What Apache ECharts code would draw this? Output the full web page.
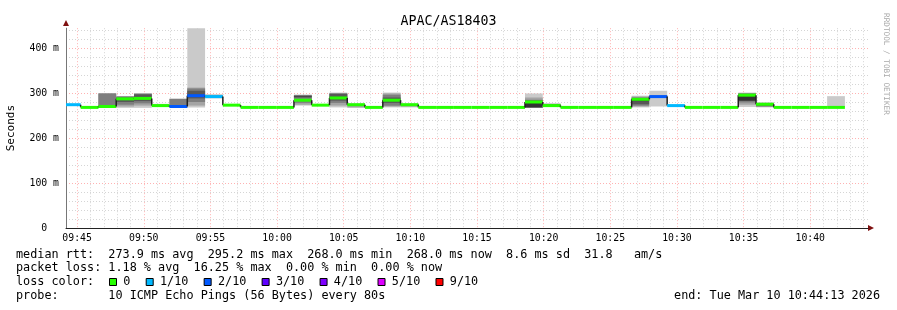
<!DOCTYPE html>
<html>
<head>
<meta charset="utf-8">
<script src="https://cdn.jsdelivr.net/npm/echarts@6/dist/echarts.min.js"></script>
<style>
html, body { margin: 0; padding: 0; background: #fff; }
#main { width: 897px; height: 310px; }
</style>
</head>
<body>
<div id="main"></div>
<script>
// rrd steps, in seconds of the day (09:43:56 + n * 80s)
var stepStart = 35036;
var stepSec = 80;

// median rtt per step (ms)
var median = [274, 268, 270, 287, 288, 272, 270, 294, 292, 273,
              268, 268, 268, 284, 273, 289, 274, 268, 284, 274,
              268, 268, 268, 268, 268, 268, 280, 272, 268, 268,
              268, 268, 286, 292, 272, 268, 268, 268, 295.2, 275,
              268, 268, 268, 268];

// loss bucket per step (index into lossLabels)
var lossIdx = [1, 0, 0, 0, 0, 0, 2, 2, 1, 0,
               0, 0, 0, 0, 0, 0, 0, 0, 0, 0,
               0, 0, 0, 0, 0, 0, 0, 0, 0, 0,
               0, 0, 0, 2, 1, 0, 0, 0, 0, 0,
               0, 0, 0, 0];

// sorted ping times per step (smoke), null where nothing shows
var pings = [
  null,
  null,
  [267, 267, 267, 269, 270, 270, 271, 299, 299, 299],
  [267, 270, 274, 280, 286, 288, 290, 292, 293, 293],
  [267, 272, 277, 282, 287, 289, 297, 298, 299, 300],
  [270, 271, 271, 272, 272, 272, 273, 273, 275, 276],
  [268, 268, 268, 269, 270, 270, 271, 287, 287, 287],
  [268, 272, 280, 288, 294, 296, 305, 310, 312, 444],
  [288, 289, 290, 291, 292, 292, 293, 294, 296, 297],
  null,
  null,
  null,
  null,
  [272, 274, 278, 290, 291, 292, 294, 295, 296, 296],
  null,
  [268, 272, 278, 283, 288, 290, 298, 299, 300, 301],
  [267, 268, 273, 273, 274, 274, 275, 275, 276, 276],
  null,
  [268, 270, 272, 278, 283, 285, 290, 296, 299, 301],
  [268, 270, 271, 272, 273, 274, 275, 275, 276, 276],
  null, null, null, null, null, null,
  [268, 268, 268, 268, 268, 279, 283, 285, 290, 299],
  [269, 270, 271, 272, 272, 273, 274, 275, 276, 277],
  null, null, null, null,
  [268, 270, 272, 275, 282, 286, 288, 290, 292, 294],
  [270, 290, 291, 291, 292, 293, 293, 294, 295, 305],
  null,
  null, null, null,
  [269, 274, 279, 283, 283, 294, 297, 299, 300, 301],
  [268, 269, 270, 272, 274, 276, 277, 277, 278, 279],
  null, null, null,
  [268, 268, 268, 268, 268, 268, 268, 268, 268, 293]
];

var lossLabels = ['0', '1/10', '2/10', '3/10', '4/10', '5/10', '9/10'];
var lossColors = ['#26ff00', '#00b8ff', '#0059ff', '#5e00ff', '#7e00ff', '#dd00ff', '#ff0000'];
var smokeColors = ['#cacaca', '#a4a4a4', '#7e7e7e', '#585858', '#323232'];

var legendLines = [
  'median rtt:  273.9 ms avg  295.2 ms max  268.0 ms min  268.0 ms now  8.6 ms sd  31.8   am/s',
  'packet loss: 1.18 % avg  16.25 % max  0.00 % min  0.00 % now',
  'loss color:',
  'probe:       10 ICMP Echo Pings (56 Bytes) every 80s'
];
var endText = 'end: Tue Mar 10 10:44:13 2026';

var xMin = 35050, xMax = 38660;   // 09:44:10 .. 10:44:20
var font = 'DejaVu Sans Mono';
var gridGray = 'rgba(128,128,128,0.33)';
var gridRed = 'rgba(255,0,0,0.3)';

// x ticks every 10s, only whole minutes get a line
var xLineColors = [];
for (var k = 0; k < 30; k++) {
  var t = xMin + k * 10;
  if (t % 300 === 0) xLineColors.push(gridRed);
  else if (t % 60 === 0) xLineColors.push(gridGray);
  else xLineColors.push('rgba(0,0,0,0)');
}

function pad(n) { return (n < 10 ? '0' : '') + n; }

var data = [];
for (var i = 0; i < median.length; i++) {
  data.push([i, stepStart + i * stepSec, stepStart + (i + 1) * stepSec, median[i], lossIdx[i]]);
}

function renderSmoke(params, api) {
  var i = api.value(0);
  var p = pings[i];
  if (!p) return;
  var cs = params.coordSys;
  var box = {x: cs.x, y: cs.y, width: cs.width, height: cs.height};
  var kids = [];
  for (var b = 0; b < 5; b++) {
    var tl = api.coord([api.value(1), p[9 - b]]);
    var br = api.coord([api.value(2), p[b]]);
    var r = echarts.graphic.clipRectByRect({x: tl[0], y: tl[1], width: br[0] - tl[0], height: br[1] - tl[1]}, box);
    if (r && r.height > 0) kids.push({type: 'rect', shape: r, style: {fill: smokeColors[b]}});
  }
  return {type: 'group', children: kids};
}

function renderMedian(params, api) {
  var i = api.value(0);
  var cs = params.coordSys;
  var a = api.coord([api.value(1), api.value(3)]);
  var b = api.coord([api.value(2), api.value(3)]);
  var x0 = Math.max(a[0], cs.x), x1 = Math.min(b[0], cs.x + cs.width);
  var kids = [];
  if (i > 0) {
    var prev = api.coord([api.value(1), median[i - 1]]);
    kids.push({type: 'line', shape: {x1: a[0], y1: prev[1], x2: a[0], y2: a[1]},
      style: {stroke: '#202020', lineWidth: 1.5}});
  }
  kids.push({type: 'line', shape: {x1: x0, y1: a[1], x2: x1, y2: a[1]},
    style: {stroke: lossColors[api.value(4)], lineWidth: 3}});
  return {type: 'group', children: kids};
}

// text lines under the graph
var graphics = [];
var lineY = [254.5, 268.3, 282.3, 296];
for (var l = 0; l < legendLines.length; l++) {
  graphics.push({type: 'text', x: 16, y: lineY[l],
    style: {text: legendLines[l], font: '11.8px "' + font + '"', fill: '#000', textVerticalAlign: 'middle'}});
}
var charW = 7.09;
var sqX = 109;
for (var c = 0; c < lossLabels.length; c++) {
  graphics.push({type: 'rect', shape: {x: sqX + 0.5, y: 278.5, width: 7, height: 7},
    style: {fill: lossColors[c], stroke: '#000', lineWidth: 1}});
  var tx = sqX + 14.3;
  graphics.push({type: 'text', x: tx, y: lineY[2],
    style: {text: lossLabels[c], font: '11.8px "' + font + '"', fill: '#000', textVerticalAlign: 'middle'}});
  sqX = tx + lossLabels[c].length * charW + 15.3;
}
graphics.push({type: 'text', x: 880, y: lineY[3],
  style: {text: endText, font: '11.8px "' + font + '"', fill: '#000', textAlign: 'right', textVerticalAlign: 'middle'}});
graphics.push({type: 'text', x: 885.5, y: 13, rotation: -Math.PI / 2,
  style: {text: 'RRDTOOL / TOBI OETIKER', font: '7.7px "' + font + '"', fill: '#a8a8a8', textVerticalAlign: 'middle'}});
// axis arrows
graphics.push({type: 'polygon', shape: {points: [[63, 26], [69, 26], [66, 20]]}, style: {fill: '#7f1010'}});
graphics.push({type: 'polygon', shape: {points: [[868, 225], [868, 231], [874, 228]]}, style: {fill: '#7f1010'}});

var myChart = echarts.init(document.getElementById('main'));
var option = {
  animation: false,
  backgroundColor: '#fff',
  title: {
    text: 'APAC/AS18403',
    left: 'center',
    top: 10,
    textStyle: {fontFamily: font, fontSize: 13.3, fontWeight: 'normal', color: '#000'}
  },
  grid: {left: 66, right: 29, top: 28.2, bottom: 82, containLabel: false, outerBoundsMode: 'none'},
  xAxis: {
    type: 'value',
    min: xMin,
    max: xMax,
    interval: 10,
    axisLine: {show: true, lineStyle: {color: '#222', width: 1}},
    axisTick: {show: false},
    axisLabel: {
      fontFamily: font, fontSize: 9.8, color: '#000', margin: 5,
      formatter: function (v) {
        v = Math.round(v);
        if (v % 300 !== 0) return '';
        return pad(Math.floor(v / 3600)) + ':' + pad(Math.floor(v % 3600 / 60));
      }
    },
    splitLine: {show: true, showMaxLine: false, lineStyle: {color: xLineColors, type: [1, 2], width: 1}}
  },
  yAxis: {
    type: 'value',
    min: 0,
    max: 444,
    interval: 20,
    name: 'Seconds',
    nameLocation: 'middle',
    nameGap: 49,
    nameTextStyle: {fontFamily: font, fontSize: 11, color: '#000'},
    axisLine: {show: true, lineStyle: {color: '#777', width: 1}},
    axisTick: {show: false},
    axisLabel: {
      fontFamily: font, fontSize: 9.8, color: '#000', margin: 7,
      formatter: function (v) {
        v = Math.round(v);
        if (v % 100 !== 0) return '';
        return v === 0 ? '0  ' : v + ' m';
      }
    },
    splitLine: {show: true, showMaxLine: false, lineStyle: {color: [gridRed, gridGray, gridGray, gridGray, gridGray], type: [1, 2], width: 1}}
  },
  series: [
    {type: 'custom', name: 'smoke', renderItem: renderSmoke, data: data, z: 2, silent: true},
    {type: 'custom', name: 'median', renderItem: renderMedian, data: data, z: 3, silent: true}
  ],
  graphic: graphics
};
myChart.setOption(option);
</script>
</body>
</html>
